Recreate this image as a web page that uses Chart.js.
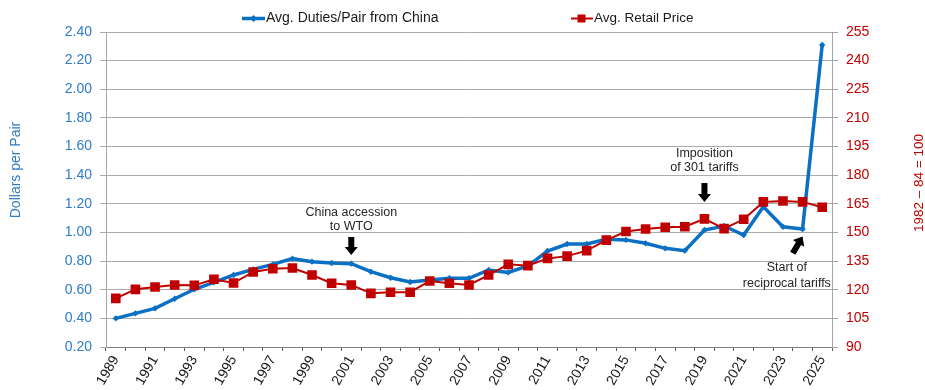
<!DOCTYPE html>
<html><head><meta charset="utf-8">
<script src="https://cdn.jsdelivr.net/npm/chart.js@4/dist/chart.umd.min.js"></script>
<style>html,body{margin:0;padding:0;background:#fff}#wrap{width:925px;height:390px}</style>
</head><body><div id="wrap"><canvas id="c" width="925" height="390"></canvas></div>
<script>
const years = ['1989','1990','1991','1992','1993','1994','1995','1996','1997','1998','1999','2000','2001','2002','2003','2004','2005','2006','2007','2008','2009','2010','2011','2012','2013','2014','2015','2016','2017','2018','2019','2020','2021','2022','2023','2024','2025'];
const duties = [0.40,0.435,0.47,0.537,0.603,0.652,0.703,0.742,0.777,0.817,0.796,0.787,0.782,0.726,0.684,0.654,0.668,0.68,0.68,0.738,0.721,0.766,0.87,0.919,0.919,0.953,0.948,0.924,0.889,0.873,1.017,1.045,0.982,1.18,1.04,1.024,2.309];
const retail = [115.5,120.2,121.4,122.5,122.3,125.5,123.5,129.3,131.0,131.4,127.7,123.4,122.5,118.1,118.7,118.7,124.6,123.4,122.5,127.7,133.3,132.6,136.4,137.6,140.5,146.0,150.5,151.8,152.7,153.0,157.1,152.0,156.9,166.0,166.5,166.0,163.2];
const leftTicks = [0.20,0.40,0.60,0.80,1.00,1.20,1.40,1.60,1.80,2.00,2.20,2.40];
const rightTicks = [90,105,120,135,150,165,180,195,210,225,240,255];
const dutiesLabel = 'Avg. Duties/Pair from China';
const retailLabel = 'Avg. Retail Price';
const leftTitle = 'Dollars per Pair';
const rightTitle = '1982 \u2013 84 = 100';
// annotations: [category index, left-axis value] anchors
const notes = [
  {lines:['China accession','to WTO'], x:12, y:[1.138,1.040], arrow:[12,0.968,12,0.842]},
  {lines:['Imposition','of 301 tariffs'], x:30, y:[1.553,1.452], arrow:[30,1.345,30,1.213]},
  {lines:['Start of','reciprocal tariffs'], x:34.2, y:[0.754,0.645], arrow:[34.5,0.854,35,0.972]}
];

const BLUE = '#0A70C4', RED = '#C00000';
const FONT = "'Liberation Sans', Arial, sans-serif";

function arrow(ctx, x0, y0, x1, y1) {
  const ang = Math.atan2(y1 - y0, x1 - x0);
  const len = Math.hypot(x1 - x0, y1 - y0);
  const hl = 8, hw = 6.5, sw = 3;
  ctx.save();
  ctx.translate(x0, y0); ctx.rotate(ang);
  ctx.fillStyle = '#000';
  ctx.beginPath();
  ctx.moveTo(0, -sw); ctx.lineTo(len - hl, -sw); ctx.lineTo(len - hl, -hw);
  ctx.lineTo(len, 0); ctx.lineTo(len - hl, hw); ctx.lineTo(len - hl, sw); ctx.lineTo(0, sw);
  ctx.closePath(); ctx.fill();
  ctx.restore();
}

const extras = {
  id: 'extras',
  afterDraw(chart) {
    const ctx = chart.ctx;
    const xs = chart.scales.x, ys = chart.scales.y;
    ctx.save();
    // legend
    ctx.textBaseline = 'middle';
    ctx.font = '14px ' + FONT;
    ctx.fillStyle = '#1a1a1a';
    ctx.strokeStyle = BLUE; ctx.lineWidth = 3.5;
    ctx.beginPath(); ctx.moveTo(242, 18.5); ctx.lineTo(265, 18.5); ctx.stroke();
    ctx.fillStyle = BLUE;
    ctx.beginPath(); ctx.moveTo(253.5, 15); ctx.lineTo(257, 18.5); ctx.lineTo(253.5, 22); ctx.lineTo(250, 18.5); ctx.closePath(); ctx.fill();
    ctx.fillStyle = '#1a1a1a'; ctx.textAlign = 'left';
    ctx.fillText(dutiesLabel, 266, 18.5);
    ctx.strokeStyle = RED; ctx.lineWidth = 2;
    ctx.beginPath(); ctx.moveTo(571, 18.5); ctx.lineTo(593, 18.5); ctx.stroke();
    ctx.fillStyle = RED; ctx.fillRect(577.5, 14.5, 8, 8);
    ctx.fillStyle = '#1a1a1a';
    ctx.font = '13.5px ' + FONT;
    ctx.fillText(retailLabel, 594, 18.5);
    // axis titles
    ctx.textAlign = 'center';
    ctx.font = '14px ' + FONT;
    ctx.fillStyle = '#2E7CC4';
    ctx.save(); ctx.translate(16, 170); ctx.rotate(-Math.PI / 2); ctx.fillText(leftTitle, 0, 0); ctx.restore();
    ctx.fillStyle = RED;
    ctx.font = '13.5px ' + FONT;
    ctx.save(); ctx.translate(919, 183); ctx.rotate(-Math.PI / 2); ctx.fillText(rightTitle, 0, 0); ctx.restore();
    // annotations
    ctx.font = '12.5px ' + FONT;
    ctx.fillStyle = '#262626';
    notes.forEach(n => {
      const x = xs.getPixelForValue(n.x);
      n.lines.forEach((t, i) => ctx.fillText(t, x, ys.getPixelForValue(n.y[i])));
      const a = n.arrow;
      arrow(ctx, xs.getPixelForValue(a[0]), ys.getPixelForValue(a[1]), xs.getPixelForValue(a[2]), ys.getPixelForValue(a[3]));
      ctx.fillStyle = '#262626';
    });
    ctx.restore();
  }
};

new Chart(document.getElementById('c'), {
  type: 'line',
  data: {
    labels: years,
    datasets: [
      {label: dutiesLabel, data: duties, yAxisID: 'y', borderColor: BLUE, backgroundColor: BLUE,
       borderWidth: 3.5, pointStyle: 'rectRot', pointRadius: 3.2, pointBorderWidth: 0, tension: 0, order: 1},
      {label: retailLabel, data: retail, yAxisID: 'y1', borderColor: RED, backgroundColor: RED,
       borderWidth: 2, pointStyle: 'rect', pointRadius: 6.8, pointBorderWidth: 0, tension: 0, order: 0}
    ]
  },
  options: {
    responsive: false, animation: false, devicePixelRatio: 1,
    layout: {padding: {top: 32, left: 0, right: 0, bottom: 0}},
    plugins: {legend: {display: false}, tooltip: {enabled: false}},
    scales: {
      x: {
        offset: true,
        grid: {display: true, drawOnChartArea: false, drawTicks: true, tickLength: 4, color: '#595959', offset: true},
        border: {color: '#7F7F7F', width: 1},
        ticks: {autoSkip: false, minRotation: 60, maxRotation: 60, padding: 2, color: '#1a1a1a',
                font: {size: 14, family: FONT},
                callback: (v, i) => (i % 2 === 0 ? years[i] : '')},
        afterFit: s => { s.height = 43; }
      },
      y: {
        position: 'left', min: 0.2, max: 2.4,
        afterBuildTicks: s => { s.ticks = leftTicks.map(v => ({value: v})); },
        ticks: {color: '#2E7CC4', font: {size: 14, family: FONT}, padding: 8, callback: v => Number(v).toFixed(2)},
        grid: {color: '#ABABAB', lineWidth: 1, tickLength: 6, drawTicks: true},
        border: {color: '#A6A6A6', width: 1},
        afterFit: s => { s.width = 106; }
      },
      y1: {
        position: 'right', min: 90, max: 255,
        afterBuildTicks: s => { s.ticks = rightTicks.map(v => ({value: v})); },
        ticks: {color: RED, font: {size: 14, family: FONT}, padding: 8},
        grid: {drawOnChartArea: false, color: '#A6A6A6', tickLength: 6, drawTicks: true},
        border: {color: '#A6A6A6', width: 1},
        afterFit: s => { s.width = 93; }
      }
    }
  },
  plugins: [extras]
});
</script>
</body></html>
